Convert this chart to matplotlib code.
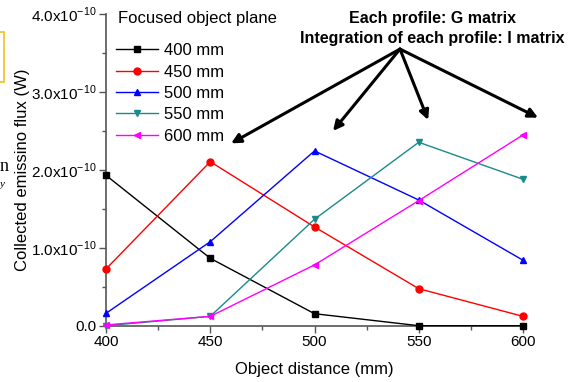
import numpy as np
import matplotlib
matplotlib.use('Agg')
import matplotlib.pyplot as plt
from matplotlib.ticker import FuncFormatter, MultipleLocator
from matplotlib.patches import Rectangle

plt.rcParams['font.family'] = ['Liberation Sans', 'DejaVu Sans']
plt.rcParams['mathtext.fontset'] = 'custom'
plt.rcParams['mathtext.rm'] = 'Liberation Sans'

# object distance (mm)
distance = [400, 450, 500, 550, 600]

# collected emission flux, in units of 1e-10 W
flux_400 = [1.93, 0.865, 0.154, 0.0, 0.0]
flux_450 = [0.728, 2.105, 1.267, 0.475, 0.12]
flux_500 = [0.159, 1.078, 2.243, 1.613, 0.84]
flux_550 = [0.0, 0.12, 1.366, 2.354, 1.879]
flux_600 = [0.01, 0.12, 0.78, 1.605, 2.448]

series = [
    ("400 mm", flux_400, "black", "s"),
    ("450 mm", flux_450, "red", "o"),
    ("500 mm", flux_500, "blue", "^"),
    ("550 mm", flux_550, "#1a8a8a", "v"),
    ("600 mm", flux_600, "magenta", "<"),
]

# arrows: common origin and four tips (data coords)
arrow_origin = (541, 3.55)
arrow_tips = [(460, 2.34), (508.9, 2.50), (554.5, 2.64), (607.2, 2.67)]

W, H = 577, 382
fig = plt.figure(figsize=(W / 100, H / 100), dpi=100)
ax = fig.add_axes([106 / W, 1 - 325.7 / H, 417 / W, (325.7 - 14) / H])

for label, vals, color, marker in series:
    ax.plot(distance, vals, color=color, lw=1.0, marker=marker, ms=5,
            label=label, clip_on=False, zorder=3)

ax.set_xlim(400, 600)
ax.set_ylim(0, 4.0)
ax.xaxis.set_major_locator(MultipleLocator(50))
ax.xaxis.set_minor_locator(MultipleLocator(25))
ax.yaxis.set_major_locator(MultipleLocator(1.0))
ax.yaxis.set_minor_locator(MultipleLocator(0.5))


def fmt_y(v, pos):
    if abs(v) < 1e-9:
        return "0.0"
    return r"{:.1f}x10$^{{\mathregular{{-10}}}}$".format(v)


ax.yaxis.set_major_formatter(FuncFormatter(fmt_y))

for side in ("top", "right"):
    ax.spines[side].set_visible(False)
for side in ("left", "bottom"):
    ax.spines[side].set_color("#555555")
    ax.spines[side].set_linewidth(1.2)
ax.tick_params(which="major", direction="out", length=5, width=1.0,
               color="#555555", labelsize=11, pad=2)
ax.tick_params(which="minor", direction="out", length=3, width=1.0,
               color="#555555")

ax.set_xlabel("Object distance (mm)", fontsize=12, labelpad=9)
ax.set_ylabel("Collected emissino flux (W)", fontsize=12)
ax.yaxis.set_label_coords(-0.183, 0.5)

ax.text(118 / W, 1 - 18 / H, "Focused object plane", transform=fig.transFigure,
        ha="left", va="center", fontsize=12)
leg = ax.legend(loc="upper left", bbox_to_anchor=(0.0, 0.938),
                frameon=False, fontsize=12, handlelength=2.5,
                handletextpad=0.4, labelspacing=0.38, borderaxespad=0.2)

ax.text(0.783, 0.985, "Each profile: G matrix", transform=ax.transAxes,
        ha="center", va="center", fontsize=11.5, fontweight="bold")
ax.text(0.783, 0.92, "Integration of each profile: I matrix",
        transform=ax.transAxes, ha="center", va="center", fontsize=11.5,
        fontweight="bold")

for tip in arrow_tips:
    ax.annotate("", xy=tip, xytext=arrow_origin, annotation_clip=False,
                arrowprops=dict(arrowstyle="-|>", color="black", lw=2.2,
                                mutation_scale=14, shrinkA=0, shrinkB=0))

# stray fragments at the left edge of the crop
fig.patches.append(Rectangle((-2 / W, 1 - 82 / H), 6 / W, 50 / H,
                             transform=fig.transFigure, fill=False,
                             edgecolor="#f0c020", lw=1.2))
fig.text(0 / W, 1 - 167 / H, "n", fontsize=13, family="Liberation Serif",
         va="center", ha="left")
fig.text(0 / W, 1 - 184 / H, "y", fontsize=8, family="Liberation Serif",
         style="italic", va="center", ha="left")

fig.savefig("out.png", dpi=100)
